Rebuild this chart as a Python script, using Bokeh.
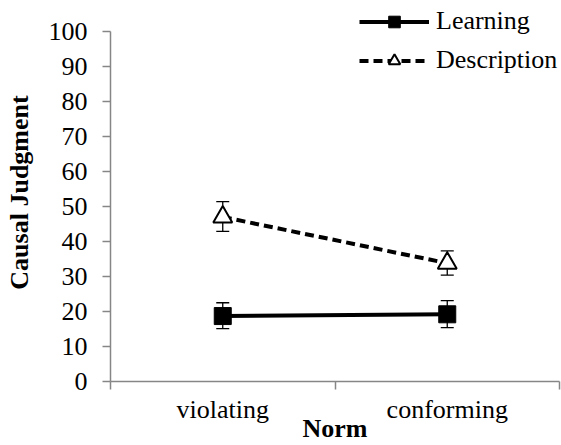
from bokeh.plotting import figure
from bokeh.models import (Range1d, FixedTicker, ColumnDataSource, Whisker, TeeHead,
                          Legend, LegendItem)
from bokeh.embed import file_html
from bokeh.resources import INLINE

categories = ["violating", "conforming"]
cat_pos = [0.5, 1.5]
learning = [18.7, 19.2]
learning_lo = [15.1, 15.4]
learning_hi = [22.5, 23.1]
description = [47.0, 33.8]
description_lo = [42.9, 30.4]
description_hi = [51.4, 37.3]
y_ticks = [0, 10, 20, 30, 40, 50, 60, 70, 80, 90, 100]

FONT = "Liberation Serif"
GRAY = "#868686"

p = figure(width=561, height=445, output_backend="svg", toolbar_location=None,
           x_range=Range1d(0, 2), y_range=Range1d(0, 108))
p.min_border_left = 110
p.min_border_right = 2
p.min_border_top = 3
p.min_border_bottom = 64
p.outline_line_color = None
p.grid.visible = False
p.background_fill_color = "white"
p.border_fill_color = "white"

# y axis
ya = p.yaxis[0]
ya.ticker = FixedTicker(ticks=y_ticks)
ya.bounds = (0, 100)
ya.axis_line_color = GRAY
ya.axis_line_width = 1.5
ya.major_tick_line_color = GRAY
ya.major_tick_line_width = 1.5
ya.major_tick_out = 8
ya.major_tick_in = 0
ya.minor_tick_line_color = None
ya.major_label_text_font = FONT
ya.major_label_text_font_size = "26px"
ya.major_label_text_color = "black"
ya.major_label_standoff = 15
ya.axis_label = "Causal Judgment"
ya.axis_label_text_font = FONT
ya.axis_label_text_font_style = "bold"
ya.axis_label_text_font_size = "26px"
ya.axis_label_text_color = "black"
ya.axis_label_standoff = 12

# x axis
xa = p.xaxis[0]
xa.ticker = FixedTicker(ticks=cat_pos, minor_ticks=[0, 1, 2])
xa.major_label_overrides = {cat_pos[i]: categories[i] for i in range(len(categories))}
xa.axis_line_color = GRAY
xa.axis_line_width = 1.5
xa.major_tick_out = 0
xa.major_tick_in = 0
xa.major_tick_line_color = None
xa.minor_tick_out = 8
xa.minor_tick_in = 0
xa.minor_tick_line_color = GRAY
xa.minor_tick_line_width = 1.5
xa.major_label_text_font = FONT
xa.major_label_text_font_size = "26px"
xa.major_label_text_color = "black"
xa.major_label_standoff = 5
xa.axis_label = "Norm"
xa.axis_label_text_font = FONT
xa.axis_label_text_font_style = "bold"
xa.axis_label_text_font_size = "26px"
xa.axis_label_text_color = "black"
xa.axis_label_standoff = -13

src_l = ColumnDataSource(dict(x=cat_pos, y=learning, lo=learning_lo, hi=learning_hi))
src_d = ColumnDataSource(dict(x=cat_pos, y=description, lo=description_lo, hi=description_hi))

for src in (src_l, src_d):
    w = Whisker(source=src, base="x", upper="hi", lower="lo",
                line_color="black", line_width=1.3,
                upper_head=TeeHead(size=13, line_color="black", line_width=1.3),
                lower_head=TeeHead(size=13, line_color="black", line_width=1.3))
    p.add_layout(w)

l_line = p.line("x", "y", source=src_l, line_color="black", line_width=4)
l_mark = p.scatter("x", "y", source=src_l, marker="square", size=17,
                   fill_color="black", line_color="black")
d_line = p.line("x", "y", source=src_d, line_color="black", line_width=4,
                line_dash="9 5")
d_mark = p.scatter("x", "y", source=src_d, marker="triangle", size=19,
                   fill_color="white", line_color="black", line_width=2)

legend = Legend(items=[LegendItem(label="Learning", renderers=[l_line, l_mark]),
                       LegendItem(label="Description", renderers=[d_line, d_mark])],
                location=(249, 306), padding=0, margin=0, spacing=9,
                glyph_width=70, glyph_height=29, label_height=29,
                label_standoff=7, border_line_color=None,
                background_fill_alpha=0,
                label_text_font=FONT, label_text_font_size="26px",
                label_text_color="black")
p.add_layout(legend)

open("out.html", "w").write(file_html(p, INLINE))
